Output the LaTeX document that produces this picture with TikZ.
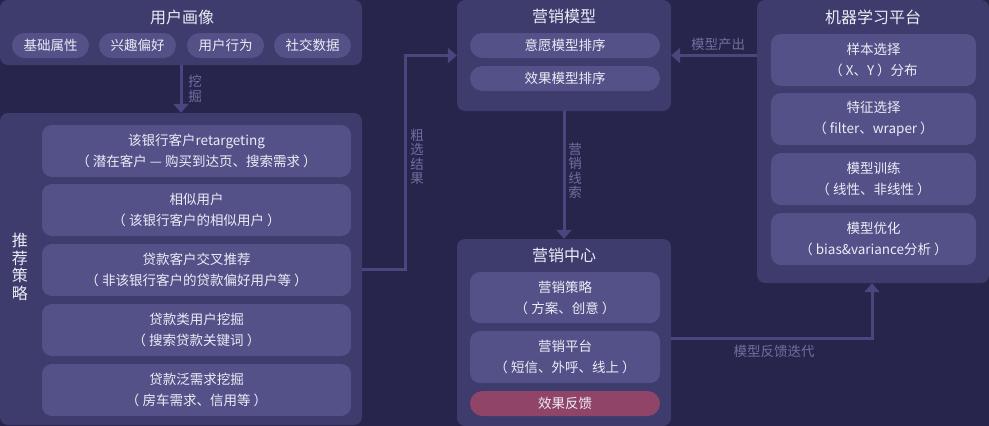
\documentclass[tikz,border=0pt]{standalone}
\usepackage{fontspec}
\setmainfont{Noto Sans CJK SC}
\usetikzlibrary{arrows.meta,calc}
\definecolor{bgc}{HTML}{27254B}
\definecolor{panelc}{HTML}{3E3B6D}
\definecolor{innerc}{HTML}{545188}
\definecolor{pinkc}{HTML}{8F4468}
\definecolor{arrc}{HTML}{4A477F}
\definecolor{lblc}{HTML}{716EA0}
\definecolor{textc}{HTML}{ECECF6}
\begin{document}
\begin{tikzpicture}[x=1pt,y=-1pt,
  panel/.style={fill=panelc, rounded corners=8pt, inner sep=0pt, draw=none},
  card/.style={fill=innerc, rounded corners=10pt, inner sep=0pt, text=textc, align=center,
     font=\fontsize{13.5}{21}\selectfont},
  pill/.style={fill=innerc, rounded corners=12.5pt, inner sep=0pt, text=textc,
     font=\fontsize{13.5}{16}\selectfont, minimum height=25pt},
  ttl/.style={text=textc, font=\fontsize{16}{18}\selectfont, inner sep=0pt},
  lbl/.style={text=lblc, font=\fontsize{13.5}{14.5}\selectfont, align=center, inner sep=0pt},
  arr/.style={draw=arrc, line width=3pt, -{Triangle[width=15pt,length=9pt]}}
]
\useasboundingbox (0,0) rectangle (989,426);
\fill[bgc] (0,0) rectangle (989,426);

% panels
\node[panel, minimum width=362pt, minimum height=65pt] (up) at (181,32.5) {};
\node[panel, minimum width=362pt, minimum height=312pt] (tj) at (181,269) {};
\node[panel, minimum width=214pt, minimum height=111pt] (ym) at (564,55.5) {};
\node[panel, minimum width=214pt, minimum height=187pt] (yz) at (564,332.5) {};
\node[panel, minimum width=232pt, minimum height=283pt] (ml) at (873,141.5) {};

% 用户画像
\node[ttl] (upt) at (182,17) {用户画像};
\node[pill, minimum width=77pt] (p1) at (50.5,45.5) {基础属性};
\node[pill, minimum width=77pt] (p2) at (137.5,45.5) {兴趣偏好};
\node[pill, minimum width=77pt] (p3) at (225.5,45.5) {用户行为};
\node[pill, minimum width=77pt] (p4) at (312.5,45.5) {社交数据};

% 推荐策略
\node[text=textc, font=\fontsize{16}{17.5}\selectfont, align=center, inner sep=0pt] (tjt) at (20,267) {推\\荐\\策\\略};
\node[card, minimum width=309pt, minimum height=52pt] (c1) at (196.5,151) {该银行客户retargeting\\（ 潜在客户 — 购买到达页、搜索需求 ）};
\node[card, minimum width=309pt, minimum height=52pt] (c2) at (196.5,210) {相似用户\\（ 该银行客户的相似用户 ）};
\node[card, minimum width=309pt, minimum height=52pt] (c3) at (196.5,270) {贷款客户交叉推荐\\（ 非该银行客户的贷款偏好用户等 ）};
\node[card, minimum width=309pt, minimum height=52pt] (c4) at (196.5,330) {贷款类用户挖掘\\（ 搜索贷款关键词 ）};
\node[card, minimum width=309pt, minimum height=52pt] (c5) at (196.5,390) {贷款泛需求挖掘\\（ 房车需求、信用等 ）};

% 营销模型
\node[ttl] (ymt) at (564,16) {营销模型};
\node[pill, minimum width=190pt] (m1) at (565,45.5) {意愿模型排序};
\node[pill, minimum width=190pt] (m2) at (565,78.5) {效果模型排序};

% 营销中心
\node[ttl] (yzt) at (564,255) {营销中心};
\node[card, minimum width=190pt, minimum height=51pt] (z1) at (565,297.5) {营销策略\\（ 方案、创意 ）};
\node[card, minimum width=190pt, minimum height=52pt] (z2) at (565,357) {营销平台\\（ 短信、外呼、线上 ）};
\node[pill, fill=pinkc, minimum width=190pt] (z3) at (565,403.5) {效果反馈};

% 机器学习平台
\node[ttl] (mlt) at (873,17) {机器学习平台};
\node[card, minimum width=205pt, minimum height=52pt] (l1) at (873.5,60) {样本选择\\（ X、Y ）分布};
\node[card, minimum width=205pt, minimum height=52pt] (l2) at (873.5,119) {特征选择\\（ filter、wraper ）};
\node[card, minimum width=205pt, minimum height=52pt] (l3) at (873.5,179) {模型训练\\（ 线性、非线性 ）};
\node[card, minimum width=205pt, minimum height=52pt] (l4) at (873.5,239) {模型优化\\（ bias\&variance分析 ）};

% connectors
\draw[arr] (up.south) -- (tj.north);
\draw[arr] (tj.east |- {(0,269)}) -- ++(43,0) |- (ym.west);
\draw[arr] (ml.west |- ym.east) -- (ym.east);
\draw[arr] (ym.south) -- (yz.north);
\draw[arr] (yz.east |- {(0,338)}) -| ([xshift=-1pt]ml.south);

% labels
\node[lbl] (la) at (195,89) {挖\\掘};
\node[lbl] (lb) at (417,157) {粗\\选\\结\\果};
\node[lbl] (lc) at (718,44) {模型产出};
\node[lbl] (ld) at (575,171) {营\\销\\线\\索};
\node[lbl] (le) at (774,351) {模型反馈迭代};
\end{tikzpicture}
\end{document}
